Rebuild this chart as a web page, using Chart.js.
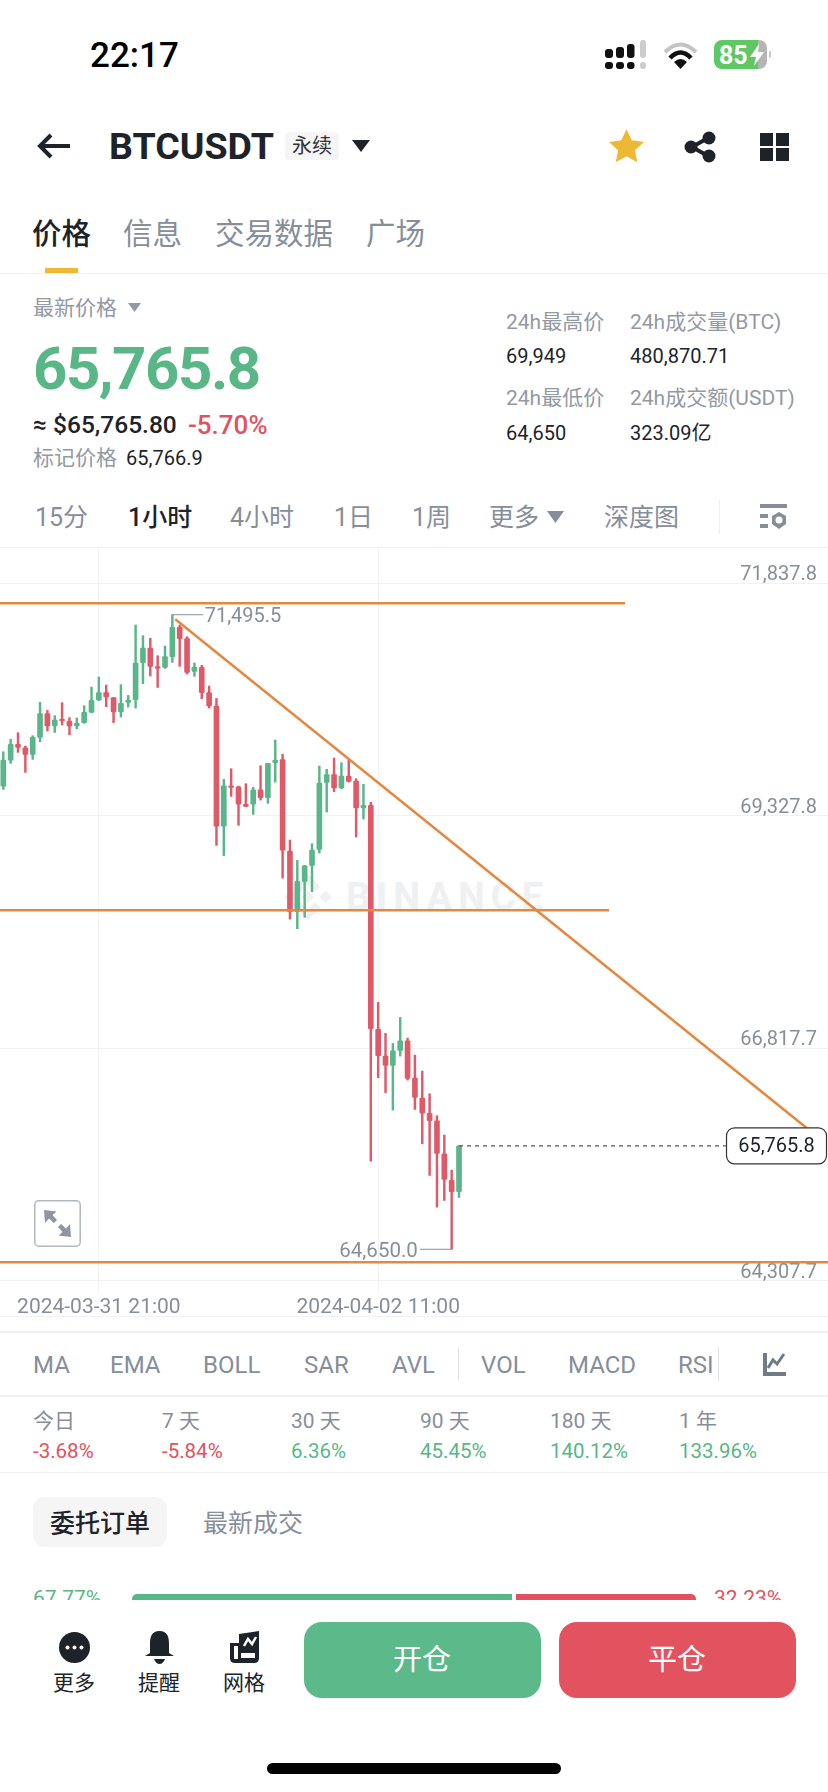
<!DOCTYPE html>
<html lang="zh">
<head>
<meta charset="utf-8">
<title>BTCUSDT</title>
<script src="https://cdn.jsdelivr.net/npm/chart.js@4/dist/chart.umd.min.js"></script>
<style>
html,body{margin:0;padding:0;background:#fff;width:828px;height:1792px;overflow:hidden;font-family:Roboto,"Noto Sans CJK SC",sans-serif}
#page{position:relative;width:828px;height:1792px;overflow:hidden}
.t{position:absolute;transform:translateY(-50%);line-height:1;white-space:nowrap;color:#868e9a;font-size:21px}
.d{color:#1e2329}
.g{color:#59b687}
.r{color:#e2515f}
.c{transform:translate(-50%,-50%)}
.box,svg{position:absolute}
#chart{position:absolute;left:0;top:547px;z-index:2}
#mark{position:absolute;left:346px;top:878px;font-size:38px;font-weight:700;letter-spacing:6px;color:#eef0f1;line-height:1}
#panel{position:absolute;left:0;top:1600px;width:828px;height:192px;background:#fff;z-index:3}
.top3{z-index:4}
</style>
</head>
<body>
<div id="page">
  <!-- status bar -->
  <span class="t" style="left:90px;top:55px;font-size:35px;font-weight:500;color:#000">22:17</span>
  <svg style="left:605px;top:40px" width="42" height="30" viewBox="0 0 42 30"><g fill="#111"><rect x="0" y="9" width="8" height="9" rx="3"/><rect x="11" y="7" width="8" height="11" rx="3"/><rect x="22" y="4" width="7.500" height="14" rx="3"/><rect x="0" y="22" width="8" height="7" rx="3"/><rect x="11" y="22" width="8" height="7" rx="3"/><rect x="22" y="22" width="7.500" height="7" rx="3"/></g><rect x="35" y="0" width="6" height="18" rx="3" fill="#ccc"/><rect x="35" y="22" width="6" height="7" rx="3" fill="#ccc"/></svg>
  <svg style="left:663px;top:40px" width="35" height="30" viewBox="0 0 35 30"><path d="M2 12Q17.500-3 33 12" fill="none" stroke="#c4c4c4" stroke-width="4"/><path d="M7 18Q17.500 7 28 18" fill="none" stroke="#111" stroke-width="4.500"/><path d="M11 22Q17.500 16 24 22L17.500 29Z" fill="#111"/></svg>
  <div class="box" style="left:714px;top:40px;width:53px;height:29px;border-radius:8px;background:linear-gradient(90deg,#5fc763 83%,#b5b5b5 83%)"></div>
  <div class="box" style="left:769px;top:51px;width:2px;height:7px;border-radius:1px;background:#c9c9c9"></div>
  <span class="t" style="left:719px;top:55px;font-size:25px;font-weight:700;color:#fff">85</span>
  <svg style="left:750px;top:44px" width="14" height="22" viewBox="0 0 14 22"><path d="M9 0L0 13H6L4 22L14 8H8Z" fill="#fff"/></svg>

  <!-- header -->
  <svg style="left:36px;top:132px" width="36" height="28" viewBox="0 0 36 28"><path d="M15 3L4 14L15 25M4 14H34" fill="none" stroke="#1e2329" stroke-width="4"/></svg>
  <span class="t d" style="left:109px;top:147px;font-size:37.500px;font-weight:700">BTCUSDT</span>
  <div class="box" style="left:285px;top:132px;width:54px;height:28px;border-radius:4px;background:#f5f5f5"></div>
  <span class="t d c" style="left:312px;top:146px;font-size:20px;color:#333">永续</span>
  <svg style="left:352px;top:140px" width="18" height="12" viewBox="0 0 18 12"><path d="M0 0H18L9 12Z" fill="#1e2329"/></svg>
  <svg style="left:609px;top:129px" width="35" height="34" viewBox="0 0 24 23"><path d="M12 0L15.600 7.600L24 8.700L17.800 14.400L19.400 22.700L12 18.600L4.600 22.700L6.200 14.400L0 8.700L8.400 7.600Z" fill="#edb935"/></svg>
  <svg style="left:684px;top:131px" width="32" height="32" viewBox="0 0 32 32"><path d="M24 7L8 16L24 25" fill="none" stroke="#1e2329" stroke-width="4"/><circle cx="25" cy="7" r="6.500" fill="#1e2329"/><circle cx="7" cy="16" r="6.500" fill="#1e2329"/><circle cx="25" cy="25" r="6.500" fill="#1e2329"/></svg>
  <svg style="left:760px;top:133px" width="29" height="28" viewBox="0 0 29 28"><g fill="#1e2329"><rect width="13" height="13"/><rect x="16" width="13" height="13"/><rect y="15" width="13" height="13"/><rect x="16" y="15" width="13" height="13"/></g></svg>

  <!-- tabs -->
  <span class="t d" style="left:32px;top:235px;font-size:29.500px;font-weight:500">价格</span>
  <span class="t" style="left:123px;top:235px;font-size:29.500px">信息</span>
  <span class="t" style="left:215px;top:235px;font-size:29.500px">交易数据</span>
  <span class="t" style="left:366px;top:235px;font-size:29.500px">广场</span>
  <div class="box" style="left:45px;top:268px;width:33px;height:5px;background:#edb935"></div>
  <div class="box" style="left:0;top:273px;width:828px;height:1px;background:#eeeff0"></div>

  <!-- price block -->
  <span class="t" style="left:33px;top:308px;color:#9299a3">最新价格</span>
  <svg style="left:128px;top:303px" width="13" height="9" viewBox="0 0 13 9"><path d="M0 0H13L6.500 9Z" fill="#9299a3"/></svg>
  <span class="t g" style="left:33px;top:369px;font-size:60px;font-weight:700;letter-spacing:-1.500px">65,765.8</span>
  <span class="t d" style="left:33px;top:425px;font-size:24.500px;font-weight:500">≈ $65,765.80</span>
  <span class="t r" style="left:188px;top:425px;font-size:26px;font-weight:500">-5.70%</span>
  <span class="t" style="left:33px;top:458px;color:#9299a3">标记价格</span>
  <span class="t d" style="left:126px;top:458px;font-size:20px">65,766.9</span>

  <span class="t" style="left:506px;top:322px;color:#9299a3">24h最高价</span>
  <span class="t" style="left:630px;top:322px;color:#9299a3">24h成交量(BTC)</span>
  <span class="t d" style="left:506px;top:356px;font-size:20px">69,949</span>
  <span class="t d" style="left:630px;top:356px;font-size:20px">480,870.71</span>
  <span class="t" style="left:506px;top:398px;color:#9299a3">24h最低价</span>
  <span class="t" style="left:630px;top:398px;color:#9299a3">24h成交额(USDT)</span>
  <span class="t d" style="left:506px;top:433px;font-size:20px">64,650</span>
  <span class="t d" style="left:630px;top:433px;font-size:20px">323.09亿</span>

  <!-- intervals -->
  <span class="t" style="left:35px;top:517px;font-size:25px">15分</span>
  <span class="t d" style="left:128px;top:517px;font-size:25px;font-weight:500">1小时</span>
  <span class="t" style="left:230px;top:517px;font-size:25px">4小时</span>
  <span class="t" style="left:334px;top:517px;font-size:25px">1日</span>
  <span class="t" style="left:412px;top:517px;font-size:25px">1周</span>
  <span class="t" style="left:489px;top:517px;font-size:25px">更多</span>
  <svg style="left:547px;top:511px" width="17" height="12" viewBox="0 0 17 12"><path d="M0 0H17L8.500 12Z" fill="#868e9a"/></svg>
  <span class="t" style="left:604px;top:517px;font-size:25px">深度图</span>
  <div class="box" style="left:719px;top:500px;width:1px;height:34px;background:#eeeff0"></div>
  <svg style="left:760px;top:504px" width="27" height="26" viewBox="0 0 27 26"><g fill="#868e9a"><rect width="27" height="4"/><rect y="10" width="8" height="4"/><rect y="20" width="8" height="4"/><path d="M19 8L26 12V20L19 25L12 20V12Z"/></g><circle cx="19" cy="16" r="3.500" fill="#fff"/></svg>
  <div class="box" style="left:0;top:547px;width:828px;height:1px;background:#f0f1f3"></div>

  <!-- watermark and chart -->
  <svg style="left:283px;top:872px" width="50" height="50" viewBox="0 0 48 48"><g fill="#eef0f1"><path d="M24 18L30 24L24 30L18 24Z"/><path d="M24 2L36 14L31 19L24 12L17 19L12 14Z"/><path d="M24 46L36 34L31 29L24 36L17 29L12 34Z"/><path d="M7 18L13 24L7 30L1 24Z"/><path d="M41 18L47 24L41 30L35 24Z"/></g></svg>
  <div id="mark">BINANCE</div>
  <canvas id="chart" width="828" height="769"></canvas>
  <div class="box" style="left:0;top:1316px;width:828px;height:1px;background:#f0f1f3"></div>
  <div class="box" style="left:0;top:1331px;width:828px;height:2px;background:#eeeff0"></div>

  <!-- expand button -->
  <svg class="top3" style="left:34px;top:1200px" width="47" height="47" viewBox="0 0 47 47"><rect x="0.800" y="0.800" width="45.400" height="45.400" rx="4" fill="#fff" stroke="#b2b7be" stroke-width="1.500"/><path d="M10 10L22.500 11.500L18.500 15L23 20L20 23L15 18.500L11 23Z" fill="#8f96a1"/><path d="M37 37L24.500 35.500L28.500 32L24 27L27 24L32 28.500L36 24Z" fill="#8f96a1"/></svg>

  <!-- indicators -->
  <span class="t" style="left:33px;top:1365px;font-size:24px">MA</span>
  <span class="t" style="left:110px;top:1365px;font-size:24px">EMA</span>
  <span class="t" style="left:203px;top:1365px;font-size:24px">BOLL</span>
  <span class="t" style="left:304px;top:1365px;font-size:24px">SAR</span>
  <span class="t" style="left:392px;top:1365px;font-size:24px">AVL</span>
  <div class="box" style="left:458px;top:1347px;width:1px;height:34px;background:#dfe1e4"></div>
  <span class="t" style="left:481px;top:1365px;font-size:24px">VOL</span>
  <span class="t" style="left:568px;top:1365px;font-size:24px">MACD</span>
  <span class="t" style="left:678px;top:1365px;font-size:24px">RSI</span>
  <div class="box" style="left:718px;top:1347px;width:1px;height:34px;background:#dfe1e4"></div>
  <svg style="left:763px;top:1353px" width="23" height="23" viewBox="0 0 23 23"><path d="M2 0V21H23" fill="none" stroke="#727a87" stroke-width="4"/><path d="M5 15L10 7L14 11L21 1" fill="none" stroke="#727a87" stroke-width="3"/></svg>
  <div class="box" style="left:0;top:1395px;width:828px;height:2px;background:#f1f2f3"></div>

  <!-- returns -->
  <span class="t" style="left:33px;top:1421px">今日</span>
  <span class="t" style="left:162px;top:1421px">7 天</span>
  <span class="t" style="left:291px;top:1421px">30 天</span>
  <span class="t" style="left:420px;top:1421px">90 天</span>
  <span class="t" style="left:550px;top:1421px">180 天</span>
  <span class="t" style="left:679px;top:1421px">1 年</span>
  <span class="t r" style="left:33px;top:1451px;font-size:20.500px">-3.68%</span>
  <span class="t r" style="left:162px;top:1451px;font-size:20.500px">-5.84%</span>
  <span class="t g" style="left:291px;top:1451px;font-size:20.500px">6.36%</span>
  <span class="t g" style="left:420px;top:1451px;font-size:20.500px">45.45%</span>
  <span class="t g" style="left:550px;top:1451px;font-size:20.500px">140.12%</span>
  <span class="t g" style="left:679px;top:1451px;font-size:20.500px">133.96%</span>
  <div class="box" style="left:0;top:1472px;width:828px;height:1px;background:#eeeff0"></div>

  <!-- order book -->
  <div class="box" style="left:33px;top:1497px;width:134px;height:50px;border-radius:12px;background:#f5f5f5"></div>
  <span class="t d c" style="left:100px;top:1523px;font-size:25px;font-weight:500">委托订单</span>
  <span class="t" style="left:203px;top:1523px;font-size:25px">最新成交</span>
  <span class="t g" style="left:33px;top:1598px;font-size:21px">67.77%</span>
  <div class="box" style="left:132px;top:1594px;width:380px;height:12px;border-radius:5px 0 0 5px;background:#59b687"></div>
  <div class="box" style="left:516px;top:1594px;width:180px;height:12px;border-radius:0 5px 5px 0;background:#e2515f"></div>
  <span class="t r" style="left:714px;top:1598px;font-size:21px">32.23%</span>

  <!-- bottom bar -->
  <div id="panel"></div>
  <svg class="top3" style="left:59px;top:1632px" width="31" height="31" viewBox="0 0 31 31"><circle cx="15.500" cy="15.500" r="15.500" fill="#1e2329"/><g fill="#fff"><circle cx="8.500" cy="15.500" r="2"/><circle cx="15.500" cy="15.500" r="2"/><circle cx="22.500" cy="15.500" r="2"/></g></svg>
  <svg class="top3" style="left:145px;top:1631px" width="29" height="33" viewBox="0 0 29 33"><path d="M14.500 0C6 0 5 7 5 13V22L0 25H29L24 22V13C24 7 23 0 14.500 0Z" fill="#1e2329"/><path d="M9 28H20Q18 33 14.500 33Q11 33 9 28Z" fill="#1e2329"/></svg>
  <svg class="top3" style="left:230px;top:1631px" width="29" height="32" viewBox="0 0 29 32"><path d="M9 3L29 0V27Q29 32 24 32H5Q0 32 0 27V12H9Z" fill="#1e2329"/><path d="M14 15L18 8L22 13L26 6" fill="none" stroke="#fff" stroke-width="2.500"/><rect x="4" y="15" width="4" height="13" fill="#fff"/><rect x="11" y="22" width="14" height="5" fill="#fff"/></svg>
  <span class="t d c top3" style="left:74px;top:1683px;font-size:21px">更多</span>
  <span class="t d c top3" style="left:159px;top:1683px;font-size:21px">提醒</span>
  <span class="t d c top3" style="left:244px;top:1683px;font-size:21px">网格</span>
  <div class="box top3" style="left:304px;top:1622px;width:237px;height:76px;border-radius:18px;background:#5cb98a"></div>
  <div class="box top3" style="left:559px;top:1622px;width:237px;height:76px;border-radius:18px;background:#e2535f"></div>
  <span class="t c top3" style="left:422px;top:1660px;font-size:29px;color:#fff">开仓</span>
  <span class="t c top3" style="left:677px;top:1660px;font-size:29px;color:#fff">平仓</span>
  <div class="box top3" style="left:267px;top:1763px;width:294px;height:11px;border-radius:6px;background:#000"></div>
</div>

<script>
// hourly candles, first one is 03-31 08:00
const opens = [69647.2,69927.8,70096.8,70060.9,69988.9,70172.4,70427.8,70294.7,70366.6,70345,70294.7,70330.6,70442.2,70575.2,70654.4,70600.4,70445.7,70550.1,70578.8,70978.1,71136.4,70934.9,70927.8,71042.8,71359.4,71237.1,70884.6,70927.8,70654.4,70510.5,69215.6,69650.8,69640,69449.4,69453,69607.6,69521.3,69899,69931.6,68946,68291.3,68618.7,68791.3,68964,69687,69769.7,69625.8,69755.3,69701.3,69410,69438.8,67021.9,66734.1,66633.4,66795.3,66899.6,66496.7,66280.9,66115.4,66036.3,65680.2,65392.4,65270.1];
const highs = [70017.7,70150.8,70222.7,70078.8,70190.4,70550.1,70463.8,70406.2,70546.5,70384.6,70381,70514.1,70715.5,70823.4,70737.1,70600.4,70740.7,70625.6,71384.6,71269.5,71240.7,71053.6,71158,71495.5,71384.6,71258.7,70974.5,70949.3,70726.3,70593.2,69719.2,69834.3,69647.2,69672.4,69632.8,69866.6,69891.8,70143.6,69989.1,69064.7,68845.3,68791.3,69025.1,69863.2,69827.2,69949.6,69899.2,69928,69726.5,69665.4,69471.1,67313.2,66978.7,66870.8,67151.4,66928.4,66744.9,66572.2,66327.6,66090.2,65881.6,65503.9,65765.8];
const lows = [69611.2,69891.8,70010.5,69794.7,69935,70125.6,70240.8,70226.3,70305.5,70201.2,70265.9,70323.4,70442.2,70568,70503.3,70330.6,70391.8,70499.7,70488.9,70751.5,70834.2,70711.9,70917,70981.8,70938.5,70855.8,70830.6,70589.6,70488.9,69006.9,68895.4,69535.8,69222.8,69424.2,69341.5,69496.1,69460.2,69690.4,68654.6,68212.2,68107.9,68230.2,68507.1,68924.4,69366.8,69586.2,69618.6,69690.6,69097.1,69291.3,65601,66500.3,66338.4,66151.4,66734.1,66475.1,66158.6,65788.1,65446.4,65104.7,65176.6,64650,65209];
const closes = [69927.8,70096.8,70064.5,69988.9,70172.4,70427.8,70294.7,70359.4,70352.2,70294.7,70323.4,70442.2,70571.6,70654.4,70607.6,70445.7,70539.3,70575.2,70974.5,71136.4,70938.5,70917,71042.8,71359.4,71237.1,70873.8,70931.3,70654.4,70510.5,69215.6,69650.8,69632.8,69453,69427.8,69607.6,69521.3,69891.8,69927.8,68956.8,68291.3,68618.7,68787.7,68956.8,69679.8,69769.7,69625.8,69755.3,69697.8,69410,69438.8,67028.8,66737.7,66633.4,66791.7,66899.6,66493.1,66288.1,66119,66036.3,65683.8,65403.2,65270.1,65765.8];

const yTicks = [64307.7, 66817.7, 69327.8, 71837.8];
const xTickIdx = [13, 51];
const xTickLabels = ['2024-03-31 21:00', '2024-04-02 11:00'];

// drawn lines on the chart (index, price)
const topLevel = [71618.8, -0.449, 84.6];
const midLevel = [68306.9, -0.449, 82.4];
const lowLevel = [64509.5, -0.449, 112.2];
const trendIdx = [23.4, 109.3];
const trendPrice = [71446, 65958];

const UP = '#5ab58a';
const DOWN = '#df5a69';
const ORANGE = '#e4873f';
const GREY = '#868e9a';

const lastPrice = closes[closes.length - 1];
const hiPrice = Math.max(...highs);
const loPrice = Math.min(...lows);
const hiIdx = highs.indexOf(hiPrice);
const loIdx = lows.indexOf(loPrice);

const colors = opens.map((o, i) => closes[i] >= o ? UP : DOWN);

function levelLine(level) {
    return {
        type: 'line', order: 0, borderColor: ORANGE, borderWidth: 2.5, pointRadius: 0,
        data: [{x: level[1], y: level[0]}, {x: level[2], y: level[0]}]
    };
}

// no extra room round the plot, labels stay inside it
function noPadding(axis) {
    axis.paddingLeft = axis.paddingRight = axis.paddingTop = axis.paddingBottom = 0;
}

// price labels and the last price box
const labelsPlugin = {
    id: 'priceLabels',
    afterDatasetsDraw(chart) {
        const c = chart.ctx, xs = chart.scales.x, ys = chart.scales.y;
        c.save();
        c.font = '20px Roboto';
        c.fillStyle = GREY;
        c.textBaseline = 'middle';
        c.textAlign = 'left';
        c.fillText('71,495.5', xs.getPixelForValue(27.4), ys.getPixelForValue(hiPrice) + 2);
        c.textAlign = 'right';
        c.font = '20.5px Roboto';
        c.fillText('64,650.0', xs.getPixelForValue(56.4), ys.getPixelForValue(loPrice) + 3);

        const y = ys.getPixelForValue(lastPrice);
        c.beginPath();
        c.roundRect(726.5, y - 18, 100, 36, 8);
        c.fillStyle = '#fff';
        c.fill();
        c.strokeStyle = '#333';
        c.lineWidth = 1.2;
        c.stroke();
        c.font = '20px Roboto';
        c.fillStyle = '#1e2329';
        c.textAlign = 'center';
        c.fillText('65,765.8', 776.5, y + 1);
        c.restore();
    }
};

new Chart(document.getElementById('chart').getContext('2d'), {
    type: 'bar',
    data: {
        datasets: [
            levelLine(topLevel),
            levelLine(midLevel),
            levelLine(lowLevel),
            {
                type: 'line', order: 0, borderColor: ORANGE, borderWidth: 2.5, pointRadius: 0,
                data: trendIdx.map((x, i) => ({x: x, y: trendPrice[i]}))
            },
            {
                type: 'line', order: 0, borderColor: GREY, borderWidth: 1, pointRadius: 0,
                data: [{x: hiIdx, y: hiPrice}, {x: 27.2, y: hiPrice}]
            },
            {
                type: 'line', order: 0, borderColor: GREY, borderWidth: 1, pointRadius: 0,
                data: [{x: 56.7, y: loPrice}, {x: loIdx, y: loPrice}]
            },
            {
                type: 'line', order: 0, borderColor: '#555', borderWidth: 1.2, borderDash: [4, 4], pointRadius: 0,
                data: [{x: closes.length - 1, y: lastPrice}, {x: 98.3, y: lastPrice}]
            },
            {
                order: 1, grouped: false, barThickness: 5, borderSkipped: false, borderRadius: 1,
                backgroundColor: colors,
                data: opens.map((o, i) => ({x: i, y: [o, closes[i]]}))
            },
            {
                order: 2, grouped: false, barThickness: 1.8, borderSkipped: false,
                backgroundColor: colors,
                data: lows.map((l, i) => ({x: i, y: [l, highs[i]]}))
            }
        ]
    },
    plugins: [labelsPlugin],
    options: {
        responsive: false,
        animation: false,
        events: [],
        layout: {padding: 0},
        plugins: {legend: {display: false}, tooltip: {enabled: false}},
        scales: {
            x: {
                type: 'linear',
                offset: false,
                min: -0.449,
                max: 112.2,
                afterBuildTicks(axis) { axis.ticks = xTickIdx.map(v => ({value: v})); },
                afterFit(axis) { axis.height = 24; noPadding(axis); },
                grid: {color: '#f0f1f3', drawTicks: false, offset: false},
                border: {display: false},
                ticks: {
                    autoSkip: false, maxRotation: 0, padding: 3, color: GREY,
                    font: {family: 'Roboto', size: 21},
                    callback: v => xTickLabels[xTickIdx.indexOf(v)]
                }
            },
            y: {
                position: 'right',
                min: 64189,
                max: 72226.2,
                afterBuildTicks(axis) { axis.ticks = yTicks.map(v => ({value: v})); },
                afterFit(axis) { axis.width = 0; noPadding(axis); },
                grid: {color: '#f0f1f3', drawTicks: false},
                border: {display: false},
                ticks: {
                    mirror: true, padding: -11, labelOffset: -8, color: GREY,
                    font: {family: 'Roboto', size: 20},
                    callback: v => v.toLocaleString('en-US', {minimumFractionDigits: 1, maximumFractionDigits: 1})
                }
            }
        }
    }
});
</script>
</body>
</html>
